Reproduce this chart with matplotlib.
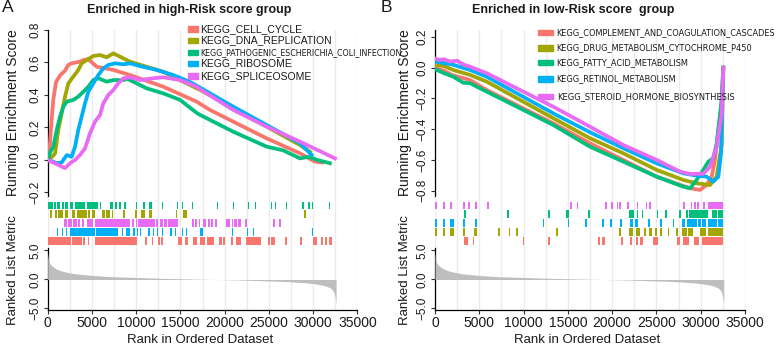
import numpy as np
import matplotlib
matplotlib.use("Agg")
import matplotlib.pyplot as plt
from matplotlib.patches import Rectangle
from matplotlib import font_manager as fm

plt.rcParams['font.family'] = ['Liberation Sans', 'DejaVu Sans']

# ---------------- data (ranks in thousands) ----------------
titles = ["Enriched in high-Risk score group", "Enriched in low-Risk score  group"]
panel_letters = ["A", "B"]
x_ticks = [0, 5000, 10000, 15000, 20000, 25000, 30000, 35000]
es_ticks_left = [-0.2, 0.0, 0.2, 0.4, 0.6, 0.8]
es_ticks_right = [-0.8, -0.6, -0.4, -0.2, 0.0, 0.2]
metric_ticks = [-5.0, 0.0, 5.0]

left_names = ["KEGG_CELL_CYCLE", "KEGG_DNA_REPLICATION",
              "KEGG_PATHOGENIC_ESCHERICHIA_COLI_INFECTION",
              "KEGG_RIBOSOME", "KEGG_SPLICEOSOME"]
right_names = ["KEGG_COMPLEMENT_AND_COAGULATION_CASCADES",
               "KEGG_DRUG_METABOLISM_CYTOCHROME_P450",
               "KEGG_FATTY_ACID_METABOLISM",
               "KEGG_RETINOL_METABOLISM",
               "KEGG_STEROID_HORMONE_BIOSYNTHESIS"]
set_colors = ["#F8766D", "#A3A500", "#00BF7D", "#00B0F6", "#E76BF3"]

# running enrichment score curves, left panel
cell_cycle_rank = [0, 0.2, 0.45, 0.63, 0.94, 1.39, 1.96, 2.33, 2.71, 3.65, 4.03, 4.6, 5.54, 7.42, 9.3, 13.07, 16.84, 18.35, 20.98, 24.76, 28.52, 30.2, 31.0]
cell_cycle_es = [0.0, 0.06, 0.25, 0.37, 0.48, 0.52, 0.55, 0.585, 0.595, 0.605, 0.615, 0.62, 0.574, 0.554, 0.523, 0.451, 0.359, 0.308, 0.236, 0.133, 0.041, -0.01, -0.015]
dna_rep_rank = [0, 0.5, 0.83, 1.2, 1.58, 1.96, 2.33, 2.9, 3.46, 3.84, 4.41, 5.16, 5.91, 6.67, 7.42, 8.17, 9.3, 11.19, 13.07, 14.96, 16.84, 17.24, 20.98, 24.76, 28.52, 29.65]
dna_rep_es = [0.0, 0.02, 0.04, 0.185, 0.287, 0.39, 0.472, 0.513, 0.554, 0.595, 0.615, 0.64, 0.646, 0.632, 0.656, 0.636, 0.605, 0.574, 0.543, 0.492, 0.441, 0.431, 0.32, 0.205, 0.092, 0.051]
pathogenic_rank = [0, 0.3, 0.63, 1.02, 1.39, 1.77, 2.15, 2.9, 3.46, 4.03, 4.59, 5.16, 5.72, 6.67, 7.42, 8.55, 9.0, 11.19, 13.07, 14.96, 16.84, 17.24, 20.98, 24.76, 26.6, 28.52, 29.5, 30.5, 31.9]
pathogenic_es = [0.0, 0.05, 0.082, 0.185, 0.267, 0.328, 0.359, 0.37, 0.39, 0.42, 0.451, 0.492, 0.503, 0.482, 0.492, 0.492, 0.5, 0.441, 0.41, 0.37, 0.29, 0.277, 0.174, 0.082, 0.06, 0.01, 0.02, 0.0, -0.02]
ribosome_rank = [0, 0.6, 1.02, 1.58, 2.15, 2.71, 3.09, 3.46, 3.84, 4.22, 4.59, 5.16, 5.72, 6.29, 6.85, 7.61, 8.55, 9.3, 10.43, 12.32, 14.2, 16.09, 17.24, 20.98, 24.76, 28.52, 29.84]
ribosome_es = [0.0, -0.01, -0.02, -0.015, 0.03, 0.02, 0.082, 0.185, 0.267, 0.349, 0.42, 0.472, 0.523, 0.564, 0.585, 0.595, 0.589, 0.595, 0.578, 0.554, 0.523, 0.48, 0.445, 0.328, 0.215, 0.103, 0.031]
spliceosome_rank = [0, 1.0, 1.96, 2.52, 3.09, 3.65, 4.22, 4.78, 5.35, 5.91, 6.29, 6.85, 7.42, 7.98, 8.55, 9.3, 10.43, 11.94, 13.07, 14.96, 16.84, 17.24, 20.98, 24.76, 28.52, 32.48]
spliceosome_es = [0.0, -0.025, -0.05, -0.02, 0.0, 0.031, 0.072, 0.164, 0.236, 0.277, 0.349, 0.4, 0.431, 0.472, 0.503, 0.509, 0.492, 0.503, 0.509, 0.492, 0.451, 0.435, 0.308, 0.205, 0.113, 0.01]

# running enrichment score curves, right panel
complement_rank = [0, 1.0, 2.0, 3.95, 5.84, 9.6, 13.36, 17.5, 21.26, 25.03, 28.79, 29.92, 30.67, 31.24, 31.61, 31.99, 32.37, 32.55]
complement_es = [0.0, -0.02, -0.05, -0.08, -0.145, -0.254, -0.362, -0.492, -0.6, -0.709, -0.784, -0.795, -0.763, -0.709, -0.6, -0.405, -0.232, 0.0]
drug_rank = [0, 1.0, 2.07, 3.95, 5.84, 9.6, 13.36, 17.5, 21.26, 25.03, 28.03, 29.54, 31.05, 31.8, 32.37, 32.55]
drug_es = [0.02, 0.01, -0.015, -0.047, -0.091, -0.21, -0.329, -0.459, -0.557, -0.665, -0.73, -0.752, -0.763, -0.709, -0.5, 0.0]
fatty_rank = [0, 1.0, 2.07, 3.2, 3.95, 5.84, 9.6, 13.36, 17.5, 21.26, 25.03, 28.03, 28.79, 29.54, 30.29, 30.86, 31.42, 31.8, 32.3, 32.55]
fatty_es = [-0.01, -0.035, -0.059, -0.098, -0.101, -0.156, -0.264, -0.373, -0.514, -0.611, -0.709, -0.774, -0.784, -0.73, -0.665, -0.611, -0.589, -0.492, -0.25, 0.0]
retinol_rank = [0, 1.0, 2.0, 3.95, 5.84, 9.6, 13.36, 17.5, 21.26, 25.03, 28.03, 29.16, 30.67, 31.42, 31.99, 32.29, 32.55]
retinol_es = [0.04, 0.03, 0.02, -0.015, -0.059, -0.178, -0.297, -0.42, -0.524, -0.622, -0.687, -0.698, -0.709, -0.741, -0.709, -0.557, 0.0]
steroid_rank = [0, 0.5, 1.0, 1.69, 2.5, 3.2, 3.95, 5.84, 9.6, 13.36, 17.5, 21.26, 25.03, 27.66, 28.79, 30.29, 31.05, 31.8, 32.37, 32.55]
steroid_es = [0.06, 0.05, 0.055, 0.04, 0.045, 0.02, 0.007, -0.036, -0.145, -0.254, -0.384, -0.503, -0.6, -0.676, -0.691, -0.69, -0.644, -0.514, -0.297, 0.0]

# gene-set hit positions (intervals, thousands of ranks)
cell_cycle_hits = [[0, 2.6], [2.8, 3.9], [4.0, 4.2], [4.6, 4.7], [5.35, 10.05], [11.0, 11.2], [11.75, 11.95], [12.5, 12.7], [12.85, 13.05], [14.75, 15.15], [15.5, 15.9], [16.45, 16.85], [17.25, 17.75], [18.05, 18.8], [19.4, 19.65], [19.85, 20.05], [20.7, 21.0], [21.3, 21.9], [22.4, 24.1], [24.85, 25.1], [25.3, 25.7], [26.85, 27.0], [28.5, 28.7], [30.0, 30.4], [30.85, 31.1], [31.35, 31.55], [31.85, 32.1]]
dna_rep_hits = [[0.25, 0.45], [0.8, 1.0], [1.2, 1.75], [1.95, 2.3], [2.7, 3.1], [3.3, 4.4], [4.5, 4.8], [5.0, 5.35], [6.1, 6.5], [6.6, 7.05], [7.25, 7.4], [8.55, 8.75], [9.85, 10.05], [10.6, 11.0], [11.45, 11.75], [14.5, 14.65], [15.25, 15.7], [29.0, 29.2]]
pathogenic_hits = [[0, 0.55], [0.7, 0.95], [1.1, 1.4], [1.6, 1.8], [2.0, 2.25], [2.5, 2.9], [3.1, 3.65], [3.7, 4.2], [4.4, 5.7], [5.9, 6.0], [7.0, 7.35], [7.6, 7.8], [8.1, 8.25], [8.65, 8.85], [10.0, 10.13], [10.8, 11.0], [11.5, 11.75], [12.9, 13.05], [14.6, 14.77], [15.15, 15.33], [16.3, 16.45], [19.1, 19.25], [20.9, 21.1], [22.6, 22.8], [23.45, 23.6], [25.2, 25.4], [25.7, 25.85], [26.9, 27.05], [28.75, 28.95], [29.45, 29.6], [29.85, 30.0], [31.8, 31.95]]
ribosome_hits = [[1.0, 1.2], [1.6, 1.75], [2.05, 2.2], [2.5, 5.35], [5.45, 8.0], [8.35, 8.55], [8.9, 9.3], [9.6, 9.85], [10.05, 10.25], [10.45, 10.6], [11.35, 11.55], [11.85, 12.0], [12.3, 12.5], [12.9, 13.05], [13.85, 14.0], [14.4, 14.55], [15.15, 15.3], [15.6, 15.8], [17.25, 17.55], [20.8, 20.95], [22.5, 22.6], [23.2, 23.35], [29.85, 30.0]]
spliceosome_hits = [[1.8, 2.15], [2.35, 2.7], [2.85, 3.3], [3.45, 3.65], [3.85, 4.1], [4.4, 5.15], [5.35, 9.3], [9.5, 9.7], [10.0, 10.15], [10.25, 12.1], [12.25, 12.45], [12.7, 13.0], [13.2, 13.45], [13.65, 14.75], [16.3, 16.5], [16.65, 16.85], [17.05, 17.25], [17.55, 17.95], [18.1, 18.35], [18.5, 18.7], [18.9, 19.1], [20.15, 20.6], [20.8, 21.0], [21.1, 21.35], [21.55, 21.8], [22.3, 22.5], [25.5, 25.75], [26.2, 26.4]]

complement_hits = [[3.3, 3.7], [4.25, 4.45], [9.9, 10.1], [12.8, 13.0], [18.45, 18.65], [18.8, 19.2], [21.0, 21.2], [22.0, 22.2], [22.7, 22.95], [23.15, 23.45], [24.6, 25.2], [27.35, 27.65], [27.95, 28.7], [29.25, 29.85], [30.1, 32.55]]
drug_hits = [[0, 0.2], [0.95, 1.15], [1.7, 2.15], [3.2, 3.4], [4.45, 4.7], [7.15, 7.35], [8.3, 8.45], [9.2, 9.4], [13.65, 13.85], [20.8, 21.0], [21.95, 22.4], [22.7, 23.15], [23.6, 23.8], [24.2, 24.45], [24.85, 25.05], [25.4, 25.6], [26.25, 26.4], [27.2, 27.4], [27.85, 28.4], [28.55, 29.15], [29.9, 30.65], [30.85, 32.55]]
fatty_hits = [[3.3, 3.5], [8.15, 8.35], [12.8, 13.0], [14.8, 15.15], [17.3, 17.5], [21.95, 22.5], [22.75, 22.95], [23.35, 23.5], [25.05, 25.2], [26.0, 26.2], [27.6, 27.75], [28.35, 28.6], [28.7, 29.1], [29.15, 30.85], [31.25, 31.8], [32.0, 32.55]]
retinol_hits = [[0, 0.2], [0.95, 1.15], [1.7, 2.15], [3.2, 3.4], [4.5, 4.7], [12.15, 12.35], [15.0, 15.15], [16.95, 17.15], [18.9, 19.1], [19.75, 19.95], [20.9, 21.1], [22.0, 22.4], [22.6, 22.95], [24.0, 24.25], [25.4, 25.6], [26.85, 27.0], [27.85, 28.2], [28.4, 29.55], [29.65, 30.0], [30.1, 30.65], [30.85, 31.8], [32.0, 32.55]]
steroid_hits = [[0.0, 0.2], [0.95, 1.15], [1.7, 1.9], [3.2, 3.4], [3.75, 3.95], [4.5, 4.7], [5.85, 6.05], [15.25, 15.45], [16.0, 16.2], [19.2, 19.4], [19.85, 20.05], [20.5, 20.7], [20.8, 21.0], [21.65, 21.85], [22.75, 22.95], [23.8, 23.95], [24.2, 24.4], [28.05, 28.2], [28.85, 29.05], [29.25, 29.45], [29.6, 29.8], [30.3, 30.5], [30.85, 32.55]]

# hit-track row order, top to bottom (indices into the set lists)
left_row_order = [2, 1, 4, 3, 0]
right_row_order = [4, 2, 3, 1, 0]

# ranked list metric
metric_rank = [0, 0.1, 0.3, 0.6, 1.0, 1.5, 2.0, 3.0, 4.0, 5.0, 7.0, 10.0, 13.0, 16.0, 19.0, 22.0, 25.0, 27.0, 29.0, 30.0, 31.0, 31.5, 32.0, 32.3, 32.5, 32.6]
metric_value = [4.6, 3.2, 2.6, 2.2, 1.8, 1.5, 1.3, 1.0, 0.85, 0.7, 0.5, 0.35, 0.2, 0.1, 0.0, -0.1, -0.25, -0.35, -0.55, -0.7, -0.95, -1.15, -1.5, -2.0, -3.0, -4.2]

left_curves = [(cell_cycle_rank, cell_cycle_es), (dna_rep_rank, dna_rep_es),
               (pathogenic_rank, pathogenic_es), (ribosome_rank, ribosome_es),
               (spliceosome_rank, spliceosome_es)]
right_curves = [(complement_rank, complement_es), (drug_rank, drug_es),
                (fatty_rank, fatty_es), (retinol_rank, retinol_es),
                (steroid_rank, steroid_es)]
left_hits = [cell_cycle_hits, dna_rep_hits, pathogenic_hits, ribosome_hits, spliceosome_hits]
right_hits = [complement_hits, drug_hits, fatty_hits, retinol_hits, steroid_hits]

# ---------------- fonts ----------------
def find_condensed():
    entries = fm.fontManager.ttflist
    for f in entries:
        if f.name == 'Liberation Sans Narrow' and f.style == 'normal' and f.weight in (400, 'normal', 'regular'):
            return fm.FontProperties(fname=f.fname)
    for name in ['Noto Sans', 'DejaVu Sans', 'Open Sans', 'Roboto', 'Liberation Sans']:
        for stretch in ('condensed', 'semi-condensed'):
            for f in entries:
                if (f.name == name and f.stretch == stretch and f.style == 'normal'
                        and f.weight in (400, 'normal', 'regular')):
                    return fm.FontProperties(fname=f.fname)
    for f in entries:
        if ('Condensed' in f.name or 'Narrow' in f.name) and f.style == 'normal' \
                and f.weight in (400, 'normal', 'regular'):
            return fm.FontProperties(fname=f.fname)
    return fm.FontProperties(family='Liberation Sans')


narrow_fp = find_condensed()
regular_fp = fm.FontProperties(family='Liberation Sans')

# ---------------- layout ----------------
W, H = 777, 347
fig = plt.figure(figsize=(W / 100, H / 100), dpi=100)
renderer = fig.canvas.get_renderer()


def rect(x0, x1, y0, y1):
    return [x0 / W, 1 - y1 / H, (x1 - x0) / W, (y1 - y0) / H]


GRID = "#EBEBEB"
TXT = "#1a1a1a"
grid_x = np.arange(0, 35001, 2500)


def style(ax):
    for s in ax.spines.values():
        s.set_visible(False)
    for g in grid_x:
        ax.axvline(g, color=GRID, lw=1.0, zorder=0)
    ax.set_xlim(0, 35000)
    ax.tick_params(axis='both', length=3, width=0.8, color="#333333",
                   labelcolor=TXT, pad=1.5)


panels = [
    dict(x0=47.7, x1=357.3, curves=left_curves, hits=left_hits, rows=left_row_order,
         es_ticks=es_ticks_left, es_lim=(-0.2277, 0.80), names=left_names,
         title=titles[0], letter=panel_letters[0], letter_x=8, title_x=189,
         ylab_x=13),
    dict(x0=435.0, x1=745.0, curves=right_curves, hits=right_hits, rows=right_row_order,
         es_ticks=es_ticks_right, es_lim=(-0.841, 0.245), names=right_names,
         title=titles[1], letter=panel_letters[1], letter_x=386, title_x=573,
         ylab_x=405),
]

for p in panels:
    # ES panel
    ax1 = fig.add_axes(rect(p['x0'], p['x1'], 30, 197))
    style(ax1)
    ax1.spines['left'].set_visible(True)
    ax1.spines['left'].set_linewidth(0.9)
    for (xr, ys), c in zip(p['curves'], set_colors):
        ax1.plot(np.array(xr) * 1000, ys, color=c, lw=2.7, solid_joinstyle='round', zorder=3)
    ax1.set_ylim(*p['es_lim'])
    ax1.set_yticks(p['es_ticks'])
    ax1.set_yticklabels([f"{t:.1f}".replace("-", "\u2212") for t in p['es_ticks']],
                        rotation=90, va='center', fontsize=8.5)
    ax1.set_xticks([])

    # hit panel
    ax2 = fig.add_axes(rect(p['x0'], p['x1'], 197, 248))
    style(ax2)
    for row, idx in enumerate(p['rows']):
        segs = [(s * 1000, (e - s) * 1000) for s, e in p['hits'][idx]]
        ax2.broken_barh(segs, (row - 0.45, 0.9), facecolors=set_colors[idx],
                        edgecolor='none', zorder=3)
    ax2.set_ylim(4.83, -0.97)
    ax2.set_xticks([])
    ax2.set_yticks([])

    # ranked metric panel
    ax3 = fig.add_axes(rect(p['x0'], p['x1'], 248, 310))
    style(ax3)
    ax3.spines['left'].set_visible(True)
    ax3.spines['bottom'].set_visible(True)
    ax3.spines['left'].set_linewidth(0.9)
    ax3.spines['bottom'].set_linewidth(0.9)
    ax3.fill_between(np.array(metric_rank) * 1000, 0, metric_value,
                     color="#BEBEBE", lw=0, zorder=3)
    ax3.set_ylim(-5.26, 5.43)
    ax3.set_yticks(metric_ticks)
    ax3.set_yticklabels([f"{t:.1f}".replace("-", "\u2212") for t in metric_ticks],
                        rotation=90, va='center', fontsize=8.5)
    ax3.set_xticks(x_ticks)
    ax3.set_xticklabels([str(t) for t in x_ticks], fontsize=10)

    # labels
    fig.text(p['ylab_x'] / W, 1 - 113 / H, "Running Enrichment Score", rotation=90,
             ha='center', va='center', fontsize=10, color=TXT)
    fig.text(p['ylab_x'] / W, 1 - 270 / H, "Ranked List Metric", rotation=90,
             ha='center', va='center', fontsize=9.5, color=TXT)
    fig.text((p['x0'] + 152) / W, 1 - 340 / H, "Rank in Ordered Dataset",
             ha='center', va='center', fontsize=9.5, color=TXT)
    fig.text(p['title_x'] / W, 1 - 10 / H, p['title'], ha='center', va='center',
             fontsize=9, fontweight='bold', color=TXT)
    fig.text(p['letter_x'] / W, 1 - 8 / H, p['letter'], ha='center', va='center',
             fontsize=12.5, color=TXT)


def fit_text(x, y, s, fp, target_w, max_size):
    t = fig.text(x / W, 1 - y / H, s, ha='left', va='center', fontproperties=fp,
                 fontsize=max_size, color=TXT)
    for _ in range(2):
        w = t.get_window_extent(renderer).width
        if w > 0:
            t.set_fontsize(t.get_fontsize() * target_w / w)
    if t.get_fontsize() > max_size:
        t.set_fontsize(max_size)
    return t


# legends (drawn manually in figure pixels)
left_leg_rows = [29, 40.5, 52.2, 63.5, 76]
left_leg_widths = [102, 132, 202, 92, 112]
for i, (name, c, yy, tw) in enumerate(zip(left_names, set_colors, left_leg_rows, left_leg_widths)):
    fig.patches.append(Rectangle((188.3 / W, 1 - (yy + 2.5) / H), 10 / W, 5 / H,
                                 transform=fig.transFigure, color=c))
    fp = narrow_fp if i == 2 else regular_fp
    fit_text(200, yy, name, fp, tw, 8.5)

right_leg_rows = [32.5, 48, 62.5, 79, 96.5]
right_leg_widths = [216, 195, 133, 121, 177]
for name, c, yy, tw in zip(right_names, set_colors, right_leg_rows, right_leg_widths):
    fig.patches.append(Rectangle((538.3 / W, 1 - (yy + 2.5) / H), 15 / W, 5 / H,
                                 transform=fig.transFigure, color=c))
    fit_text(556.7, yy, name, narrow_fp, tw, 8.5)

fig.savefig("out.png", dpi=100)
